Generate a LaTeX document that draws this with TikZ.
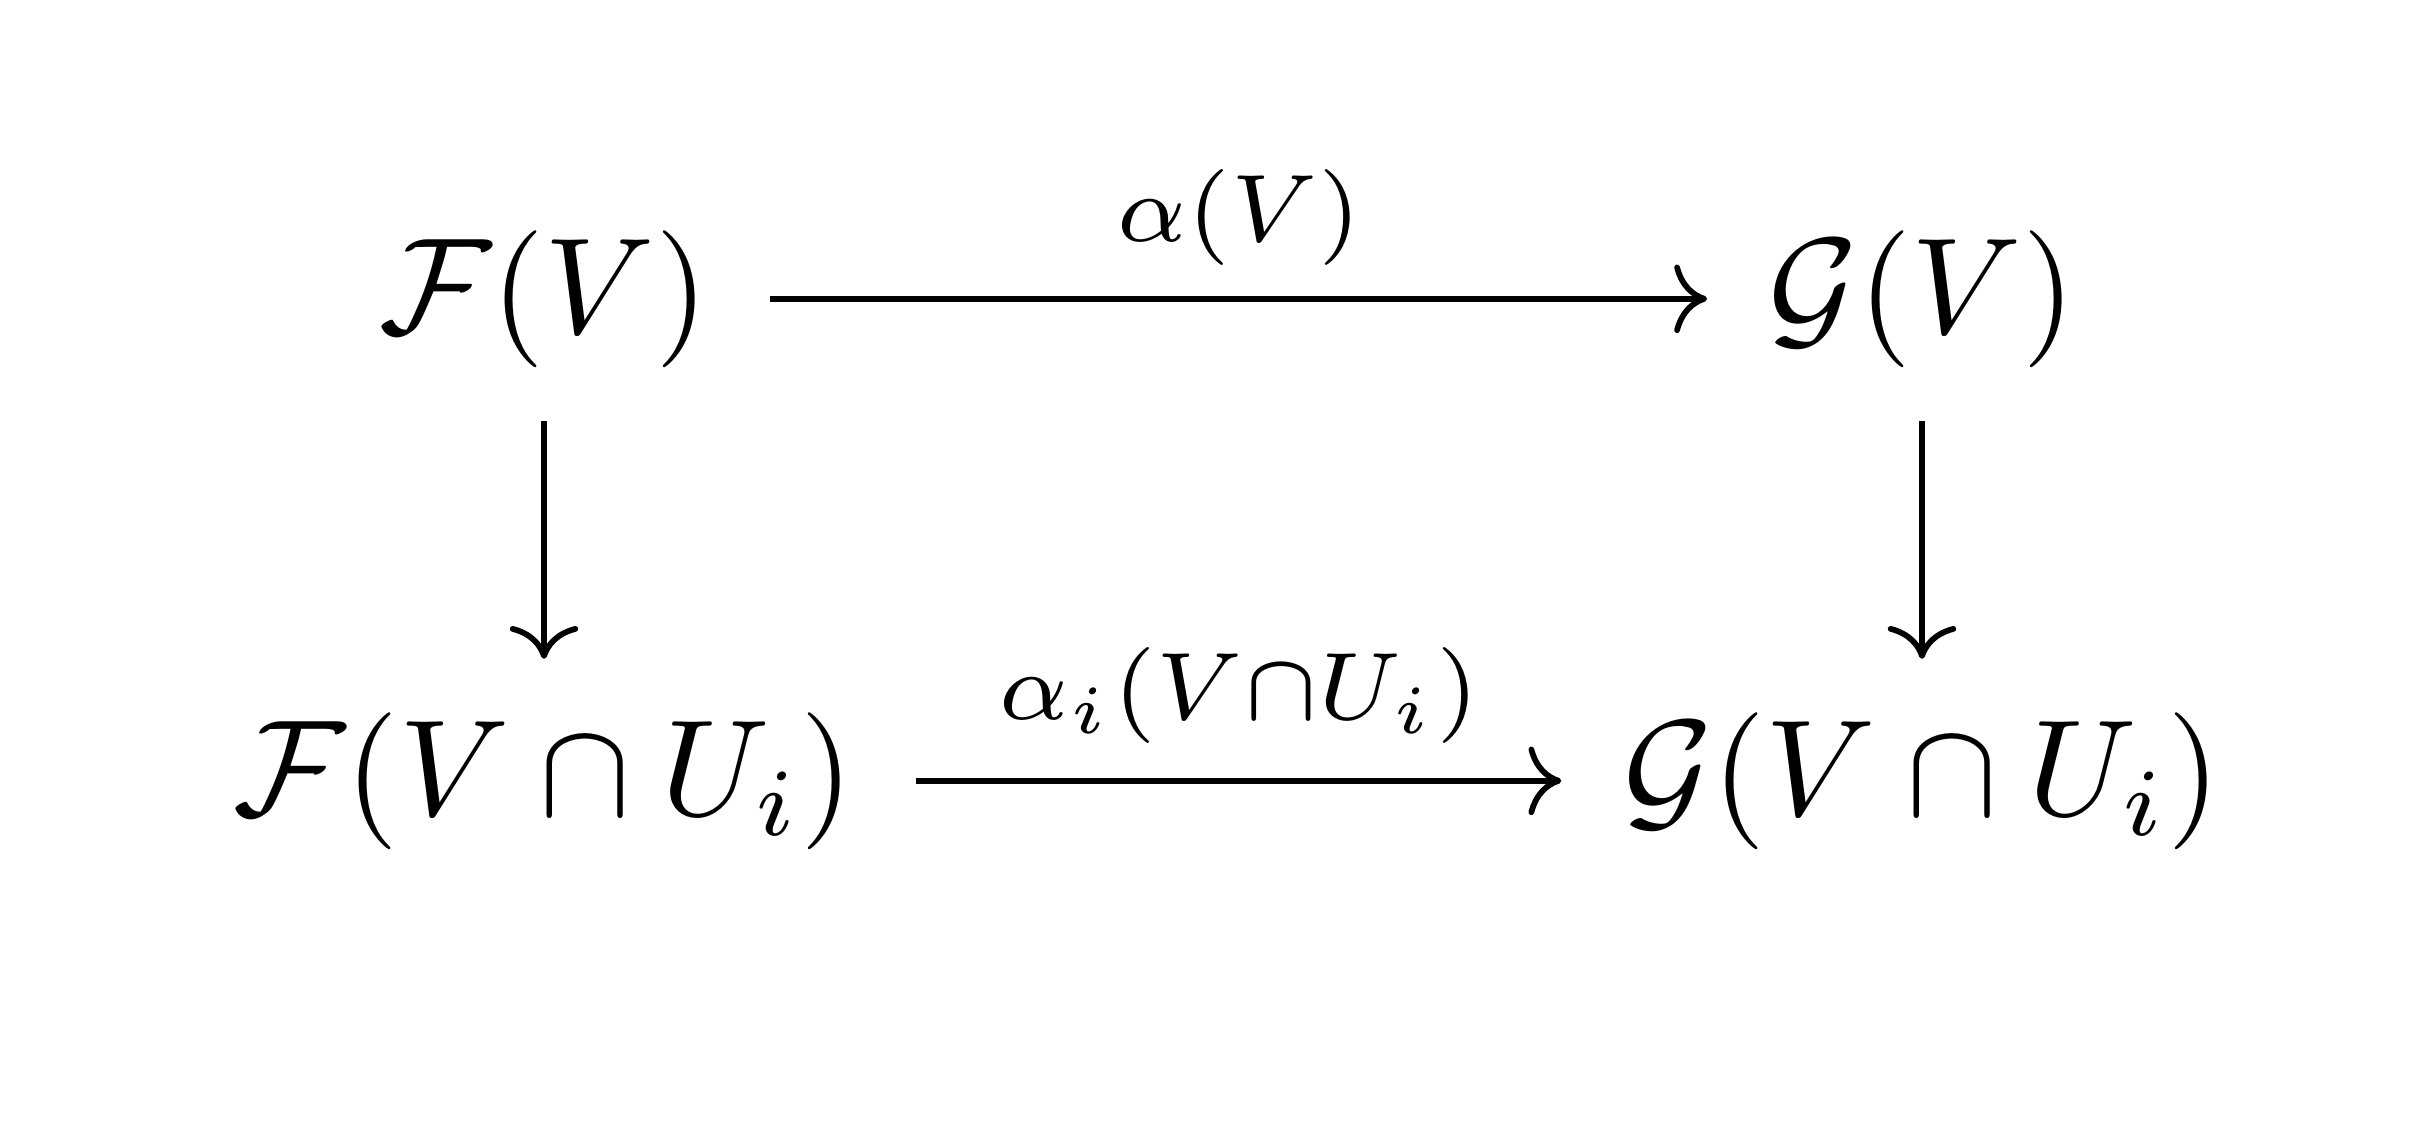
\documentclass[tikz,border=0pt]{standalone}
\usetikzlibrary{arrows.meta}
\begin{document}
\begin{tikzpicture}[x=0.07299pt,y=-0.07299pt,
  obj/.style={anchor=base,inner xsep=4.3pt,inner ysep=3.7pt,font=\fontsize{10}{12}\selectfont},
  lbl/.style={inner sep=0pt,font=\fontsize{7.1}{9}\selectfont},
  mor/.style={line width=0.42pt,-{Computer Modern Rightarrow[length=2.4pt,width=5pt]}}]
\useasboundingbox (0,0) rectangle (2432,1124);
\node[obj] (fv)  at (544,333) {$\mathcal{F}(V)$};
\node[obj] (gv)  at (1922,333) {$\mathcal{G}(V)$};
\node[obj] (fvu) at (544,815) {$\mathcal{F}(V\cap U_i)$};
\node[obj] (gvu) at (1922,815) {$\mathcal{G}(V\cap U_i)$};
\draw[mor] (fv.east) -- node[lbl,above,yshift=2.2pt] (la) {$\alpha(V)$} (gv.west);
\draw[mor] (fv.south) -- (fvu.north);
\draw[mor] (gv.south) -- (gvu.north);
\draw[mor] (fvu.east) -- node[lbl,above,yshift=2.5pt] (lb) {$\alpha_i(V{\cap}U_i)$} (gvu.west);
\end{tikzpicture}
\end{document}
